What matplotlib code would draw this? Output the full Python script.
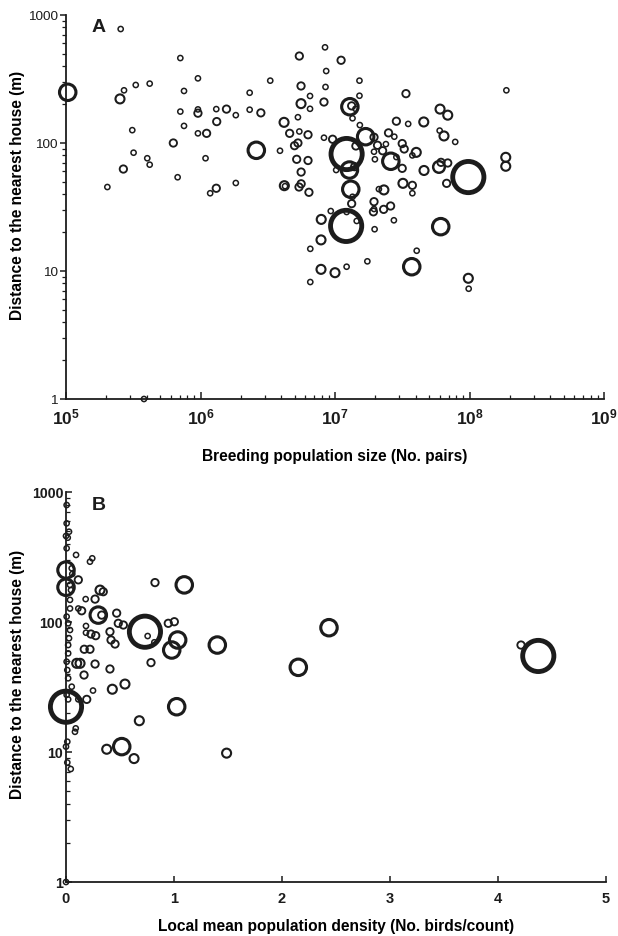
import numpy as np
import matplotlib
matplotlib.use("Agg")
import matplotlib.pyplot as plt
from matplotlib.ticker import NullFormatter

plt.rcParams['font.family'] = ['Liberation Sans', 'DejaVu Sans']
plt.rcParams['mathtext.fontset'] = 'custom'
plt.rcParams['mathtext.rm'] = 'Liberation Sans'
plt.rcParams['mathtext.bf'] = 'Liberation Sans:bold'

# ---------------- Panel A data ----------------
a_pop = [2.55e5, 1.03e5, 2.52e5, 2.7e5, 3.3e5, 4.19e5, 3.11e5, 3.18e5, 2.67e5, 4.02e5,
         4.19e5, 2.03e5, 7.08e5, 7.54e5, 9.57e5, 7.08e5, 9.57e5, 9.57e5, 7.54e5, 9.57e5,
         1.11e6, 1.31e6, 1.56e6, 1.32e6, 1.83e6, 2.32e6, 2.32e6, 2.81e6, 3.3e6, 6.28e5,
         1.09e6, 6.76e5, 1.83e6, 1.31e6, 1.18e6, 2.6e6, 3.9e6, 5.43e6, 5.59e6, 6.52e6,
         5.59e6, 6.52e6, 5.3e6, 4.18e6, 4.6e6, 5.43e6, 6.3e6, 5.0e6, 5.3e6, 5.19e6,
         6.3e6, 5.6e6, 4.2e6, 4.25e6, 5.4e6, 5.6e6, 6.4e6, 8.43e6, 1.11e7, 8.6e6,
         1.52e7, 8.5e6, 1.52e7, 8.28e6, 1.29e7, 1.33e7, 1.42e7, 1.35e7, 1.53e7, 2.86e7,
         3.5e7, 4.57e7, 6.04e7, 6.89e7, 3.37e7, 1.88e8, 8.28e6, 9.6e6, 1.22e7, 1.43e7,
         1.69e7, 1.95e7, 2.07e7, 2.39e7, 2.5e7, 2.76e7, 3.16e7, 3.27e7, 4.02e7, 3.76e7,
         2.26e7, 1.95e7, 1.98e7, 2.6e7, 2.86e7, 3.16e7, 4.59e7, 5.93e7, 6.14e7, 6.89e7,
         6.76e7, 9.8e7, 1.86e8, 1.86e8, 1.28e7, 1.31e7, 1.35e7, 1.33e7, 1.02e7, 1.95e7,
         2.31e7, 2.12e7, 3.2e7, 3.76e7, 3.76e7, 2.59e7, 1.93e7, 2.3e7, 9.3e6, 7.9e6,
         1.4e7, 1.22e7, 1.21e7, 1.45e7, 7.87e6, 6.55e6, 7.87e6, 1.0e7, 1.22e7, 1.74e7,
         6.55e6, 1.97e7, 1.95e7, 2.74e7, 6.11e7, 3.72e7, 4.05e7, 9.8e7, 9.86e7, 3.8e5,
         6.46e7, 6.0e7, 7.83e7]
a_dist = [777, 249, 221, 258, 284, 291, 126, 84, 62.6, 76,
          67.7, 45.3, 461, 255, 320, 176, 183, 171, 136, 119,
          119, 184, 184, 147, 165, 247, 182, 172, 307, 100,
          76, 54, 48.7, 44.3, 40.5, 87.7, 87, 478, 279, 233,
          203, 185, 159, 145, 119, 123, 116, 95.3, 100, 74.6,
          73, 59.3, 46.4, 46.0, 45.3, 48, 41.2, 559, 443, 365,
          307, 274, 234, 209, 192, 195, 185, 156, 138, 148,
          141, 146, 184, 165, 243, 258, 110, 107, 82, 94.8,
          112, 111, 96, 98, 120, 112, 99, 89.8, 84.5, 80,
          87, 85.5, 74.6, 72, 77.6, 63.4, 61, 65, 70.6, 69.8,
          48.4, 54.2, 77.3, 65.8, 61.5, 43.5, 38, 33.6, 61.5, 34.8,
          43, 43.6, 48.4, 46.7, 40.5, 32.2, 29, 30.3, 29.4, 25.3,
          65.3, 28.9, 22.5, 24.6, 17.5, 14.9, 10.3, 9.7, 10.8, 11.9,
          8.2, 21.2, 30.5, 24.9, 22.2, 10.8, 14.4, 8.77, 7.27, 1.0,
          113.5, 125, 102]
a_n = [1, 10, 3, 1, 1, 1, 1, 1, 2, 1,
       1, 1, 1, 1, 1, 1, 1, 2, 1, 1,
       2, 1, 2, 2, 1, 1, 1, 2, 1, 2,
       1, 1, 1, 2, 1, 10, 1, 2, 2, 1,
       3, 1, 1, 3, 2, 1, 2, 2, 2, 2,
       2, 2, 3, 1, 2, 2, 2, 1, 2, 1,
       1, 1, 1, 2, 10, 2, 1, 1, 1, 2,
       1, 3, 3, 3, 2, 1, 1, 2, 36, 2,
       10, 2, 2, 1, 2, 1, 2, 2, 3, 1,
       2, 1, 1, 10, 1, 2, 3, 5, 2, 2,
       2, 36, 3, 3, 10, 10, 1, 2, 1, 2,
       3, 1, 3, 2, 1, 2, 2, 2, 1, 3,
       2, 1, 36, 1, 3, 1, 3, 3, 1, 1,
       1, 1, 1, 1, 10, 10, 1, 3, 1, 1,
       3, 1, 1]

# ---------------- Panel B data ----------------
b_dens = [0.006, 0.006, 0.028, 0.0, 0.016, 0.006, 0.093, 0.243, 0.222, 0.0,
          0.053, 0.058, 0.114, 0.0, 0.037, 0.046, 0.037, 0.037, 0.006, 0.02,
          0.037, 0.028, 0.02, 0.02, 0.006, 0.012, 0.02, 0.053, 0.114, 0.145,
          0.182, 0.269, 0.315, 0.345, 0.299, 0.331, 0.185, 0.185, 0.231, 0.275,
          0.169, 0.222, 0.099, 0.13, 0.269, 0.407, 0.167, 0.407, 0.469, 0.484,
          0.531, 0.454, 0.417, 0.787, 0.824, 1.095, 0.731, 0.756, 0.818, 0.947,
          1.003, 1.034, 0.979, 1.401, 2.151, 2.435, 4.373, 4.213, 0.0, 0.006,
          0.02, 0.192, 0.114, 0.25, 0.429, 0.546, 1.025, 0.679, 0.09, 0.083,
          0.012, 0.0, 0.377, 0.516, 0.63, 0.012, 0.044, 0.0, 1.487]
b_dist = [794, 574, 495, 459, 445, 369, 328, 309, 291, 251,
          259, 234, 211, 185, 193, 176, 148, 127, 110, 97.7,
          86.8, 75, 66.5, 57.4, 49.5, 42.7, 36.9, 31.8, 127, 122,
          150, 150, 176, 171, 113, 113, 93.2, 82.7, 80.8, 78.5,
          61.7, 61.7, 48.1, 48.1, 47.5, 43.5, 39.1, 84.2, 117, 97.7,
          94.8, 67.7, 72.7, 48.7, 201, 193, 84.2, 78, 69.8, 97.7,
          100.5, 72.7, 60.9, 66.5, 44.8, 90.4, 54.8, 66.5, 22.3, 27.5,
          25.4, 25.4, 25.4, 29.7, 30.4, 33.3, 22.3, 17.4, 15.2, 14.3,
          12, 11, 10.5, 11, 8.9, 8.3, 7.4, 1.0, 9.8]
b_n = [1, 1, 1, 1, 1, 1, 1, 1, 1, 10,
       1, 1, 2, 10, 1, 1, 1, 1, 1, 1,
       1, 1, 1, 1, 1, 1, 1, 1, 1, 2,
       1, 2, 3, 2, 10, 2, 1, 1, 2, 2,
       2, 2, 3, 3, 2, 2, 2, 2, 2, 2,
       2, 2, 2, 2, 2, 10, 36, 1, 1, 2,
       2, 10, 10, 10, 10, 10, 36, 2, 36, 1,
       1, 2, 1, 1, 3, 3, 10, 3, 1, 1,
       1, 1, 3, 10, 3, 1, 1, 1, 3]

a_xticks = [1e5, 1e6, 1e7, 1e8, 1e9]
a_xticklabels = [r'$\mathbf{10^{5}}$', r'$\mathbf{10^{6}}$', r'$\mathbf{10^{7}}$',
                 r'$\mathbf{10^{8}}$', r'$\mathbf{10^{9}}$']
yticks = [1, 10, 100, 1000]
yticklabels = ['1', '10', '100', '1000']
b_xticks = [0, 1, 2, 3, 4, 5]

INK = '#1c1c1c'
W, H = 618, 936
fig = plt.figure(figsize=(W / 100, H / 100), dpi=100)


def px_axes(l, t, r, b):
    return fig.add_axes([l / W, 1 - b / H, (r - l) / W, (b - t) / H])


def bubbles(ax, x, y, n):
    n = np.asarray(n, float)
    r_px = 2.6 * np.sqrt(n)
    ms_pt = 2 * r_px * 72 / 100
    lw = 0.35 + 0.75 * n ** 0.4
    order = np.argsort(-n)
    ax.scatter(np.asarray(x)[order], np.asarray(y)[order], s=(ms_pt ** 2)[order],
               facecolors='none', edgecolors=INK, linewidths=lw[order],
               clip_on=False, zorder=3)


def style(ax):
    for s in ('top', 'right'):
        ax.spines[s].set_visible(False)
    for s in ('left', 'bottom'):
        ax.spines[s].set_linewidth(1.3)
        ax.spines[s].set_color(INK)


LABEL_FS = 11.2

# ---------------- Panel A ----------------
axA = px_axes(66, 15, 604, 399)
axA.set_xscale('log')
axA.set_yscale('log')
axA.set_xlim(1e5, 1e9)
axA.set_ylim(1, 1000)
bubbles(axA, a_pop, a_dist, a_n)
style(axA)
axA.set_xticks(a_xticks)
axA.set_xticklabels(a_xticklabels, fontsize=12.5)
axA.set_yticks(yticks)
axA.set_yticklabels(yticklabels, fontsize=9.7)
axA.tick_params(axis='x', which='major', direction='in', length=5, width=1.1,
                pad=6, colors=INK)
axA.tick_params(axis='x', which='minor', direction='in', length=3, width=0.9, colors=INK)
axA.tick_params(axis='y', which='major', direction='out', length=4, width=1.1,
                pad=2, colors=INK)
axA.tick_params(axis='y', which='minor', direction='out', length=3, width=0.9, colors=INK)
axA.xaxis.set_minor_formatter(NullFormatter())
axA.yaxis.set_minor_formatter(NullFormatter())
axA.set_xlabel('Breeding population size (No. pairs)', fontsize=LABEL_FS,
               fontweight='bold')
axA.xaxis.set_label_coords(0.5, -(449 - 399) / 384)
axA.set_ylabel('Distance to the nearest house (m)', fontsize=LABEL_FS,
               fontweight='bold')
axA.yaxis.set_label_coords((25 - 66) / 538, (399 - 195) / 384)
axA.text(92 / W, 1 - 28 / H, 'A', transform=fig.transFigure, fontsize=14,
         fontweight='bold', va='center', ha='left', color=INK)

# ---------------- Panel B ----------------
axB = px_axes(66, 492, 606, 882)
axB.set_yscale('log')
axB.set_xlim(0, 5)
axB.set_ylim(1, 1000)
bubbles(axB, b_dens, b_dist, b_n)
style(axB)
axB.set_xticks(b_xticks)
axB.set_xticklabels([str(t) for t in b_xticks], fontsize=10.5, fontweight='bold')
axB.set_yticks(yticks)
axB.set_yticklabels(yticklabels, fontsize=10.2, fontweight='bold')
axB.tick_params(axis='x', which='major', direction='in', length=4, width=1.1,
                pad=7, colors=INK)
axB.tick_params(axis='y', which='major', direction='in', length=4, width=1.1,
                pad=2, colors=INK)
axB.tick_params(axis='y', which='minor', direction='in', length=3, width=0.9, colors=INK)
axB.yaxis.set_minor_formatter(NullFormatter())
axB.set_xlabel('Local mean population density (No. birds/count)', fontsize=LABEL_FS,
               fontweight='bold')
axB.xaxis.set_label_coords(0.5, -(919 - 882) / 390)
axB.set_ylabel('Distance to the nearest house (m)', fontsize=LABEL_FS,
               fontweight='bold')
axB.yaxis.set_label_coords((25 - 66) / 540, (882 - 674) / 390)
axB.text(92 / W, 1 - 505 / H, 'B', transform=fig.transFigure, fontsize=14,
         fontweight='bold', va='center', ha='left', color=INK)

fig.savefig('out.png', dpi=100)
